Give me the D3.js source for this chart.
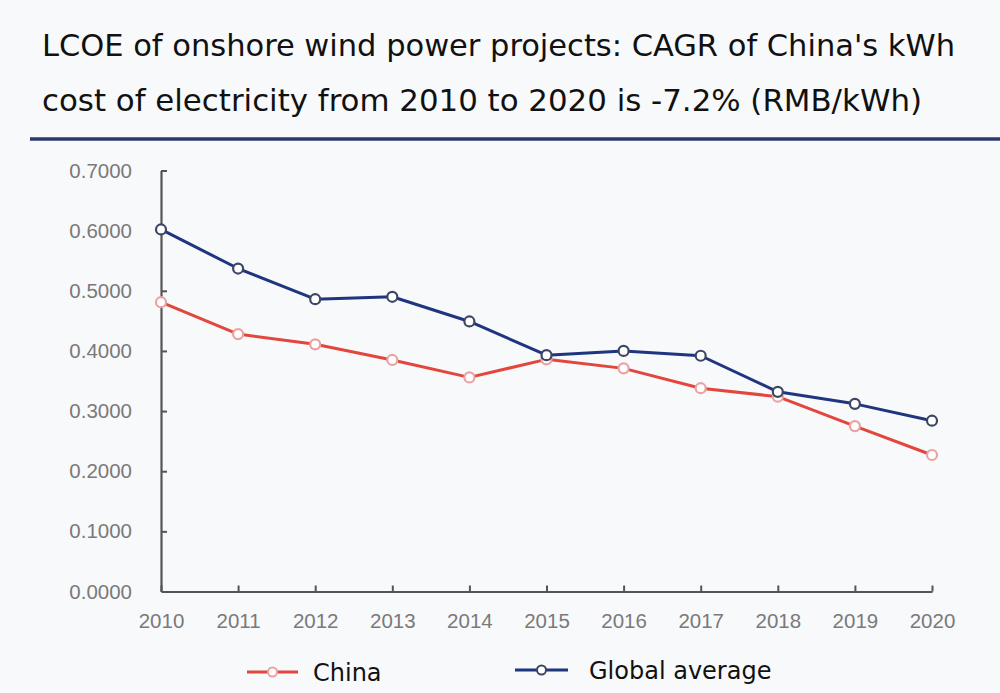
<!DOCTYPE html>
<html>
<head>
<meta charset="utf-8">
<script src="https://cdn.jsdelivr.net/npm/d3@7"></script>
<style>
  html, body { margin: 0; padding: 0; background: #f8f9fb; }
  svg { display: block; }
</style>
</head>
<body>
<div id="chart"></div>
<script>
// chart data
const years = [2010, 2011, 2012, 2013, 2014, 2015, 2016, 2017, 2018, 2019, 2020];
const china = [0.481, 0.428, 0.411, 0.385, 0.356, 0.386, 0.371, 0.338, 0.324, 0.275, 0.227];
const globalAvg = [0.602, 0.537, 0.486, 0.490, 0.449, 0.393, 0.400, 0.392, 0.332, 0.312, 0.284];
const yTicks = [0, 0.1, 0.2, 0.3, 0.4, 0.5, 0.6, 0.7];
const titleLines = [
  "LCOE of onshore wind power projects: CAGR of China's kWh",
  "cost of electricity from 2010 to 2020 is -7.2% (RMB/kWh)",
];
const seriesNames = ["China", "Global average"];

const width = 1000, height = 693;
const margin = { top: 170.5, right: 68, bottom: 101.5, left: 161 };

const svg = d3.select("#chart")
  .append("svg")
  .attr("width", width)
  .attr("height", height);

svg.append("rect")
  .attr("width", width).attr("height", height)
  .attr("fill", "#f8f9fb");

// title
svg.append("g")
  .selectAll("text")
  .data(titleLines)
  .join("text")
  .attr("x", 42)
  .attr("y", (d, i) => 56 + i * 55)
  .attr("font-family", "'DejaVu Sans Condensed', 'DejaVu Sans', sans-serif")
  .attr("font-stretch", "condensed")
  .attr("font-size", 30)
  .attr("fill", "#111")
  .attr("textLength", (d, i) => (i == 0 ? 913 : 880))
  .attr("lengthAdjust", "spacingAndGlyphs")
  .text((d) => d);

svg.append("line")
  .attr("x1", 30).attr("x2", width)
  .attr("y1", 139).attr("y2", 139)
  .attr("stroke", "#2d3868")
  .attr("stroke-width", 3.5);

const x = d3.scalePoint()
  .domain(years)
  .range([margin.left, width - margin.right]);

const y = d3.scaleLinear()
  .domain([0, 0.7])
  .range([height - margin.bottom, margin.top]);

// axes
const xAxis = d3.axisBottom(x).tickSizeInner(-6).tickSizeOuter(0).tickPadding(22);
const yAxis = d3.axisLeft(y).tickValues(yTicks).tickSizeInner(-6).tickSizeOuter(0)
  .tickPadding(29).tickFormat(d3.format(".4f"));

const gx = svg.append("g")
  .attr("transform", `translate(0,${height - margin.bottom})`)
  .call(xAxis);
const gy = svg.append("g")
  .attr("transform", `translate(${margin.left},0)`)
  .call(yAxis);

[gx, gy].forEach((g) => {
  g.select(".domain").attr("stroke", "#555").attr("stroke-width", 2.2);
  g.selectAll(".tick line").attr("stroke", "#555").attr("stroke-width", 2);
  g.selectAll(".tick text")
    .attr("fill", "#7a7a7a")
    .attr("font-family", "'Liberation Sans', Arial, sans-serif")
    .attr("font-size", 20.5);
});
gx.selectAll(".tick text").attr("dy", "0.71em");
// hide the y tick at 0 (sits on x axis)
gy.selectAll(".tick line").filter((d) => d === 0).remove();

const series = [
  { name: seriesNames[0], values: china, line: "#e2463c", mark: "#eaa2a2" },
  { name: seriesNames[1], values: globalAvg, line: "#1f3580", mark: "#3d4763" },
];

const line = d3.line()
  .x((d, i) => x(years[i]))
  .y((d) => y(d));

const plot = svg.append("g");
series.forEach((s) => {
  plot.append("path")
    .datum(s.values)
    .attr("fill", "none")
    .attr("stroke", s.line)
    .attr("stroke-width", 3)
    .attr("stroke-linejoin", "round")
    .attr("d", line);
});
series.forEach((s) => {
  plot.append("g")
    .selectAll("circle")
    .data(s.values)
    .join("circle")
    .attr("cx", (d, i) => x(years[i]))
    .attr("cy", (d) => y(d))
    .attr("r", 5)
    .attr("fill", "#fff")
    .attr("stroke", s.mark)
    .attr("stroke-width", 2.2);
});

// legend
const legendPos = [
  { x1: 247, x2: 298, tx: 313, y: 672 },
  { x1: 515, x2: 568, tx: 589, y: 670 },
];
const legend = svg.append("g")
  .selectAll("g")
  .data(series)
  .join("g");

legend.append("line")
  .attr("x1", (d, i) => legendPos[i].x1)
  .attr("x2", (d, i) => legendPos[i].x2)
  .attr("y1", (d, i) => legendPos[i].y)
  .attr("y2", (d, i) => legendPos[i].y)
  .attr("stroke", (d) => d.line)
  .attr("stroke-width", 3);
legend.append("circle")
  .attr("cx", (d, i) => (legendPos[i].x1 + legendPos[i].x2) / 2)
  .attr("cy", (d, i) => legendPos[i].y)
  .attr("r", 4.5)
  .attr("fill", "#fff")
  .attr("stroke", (d) => d.mark)
  .attr("stroke-width", 2);
legend.append("text")
  .attr("x", (d, i) => legendPos[i].tx)
  .attr("y", (d, i) => legendPos[i].y)
  .attr("dy", "0.36em")
  .attr("font-family", "'DejaVu Sans', sans-serif")
  .attr("font-size", 24)
  .attr("fill", "#111")
  .text((d) => d.name);
</script>
</body>
</html>
